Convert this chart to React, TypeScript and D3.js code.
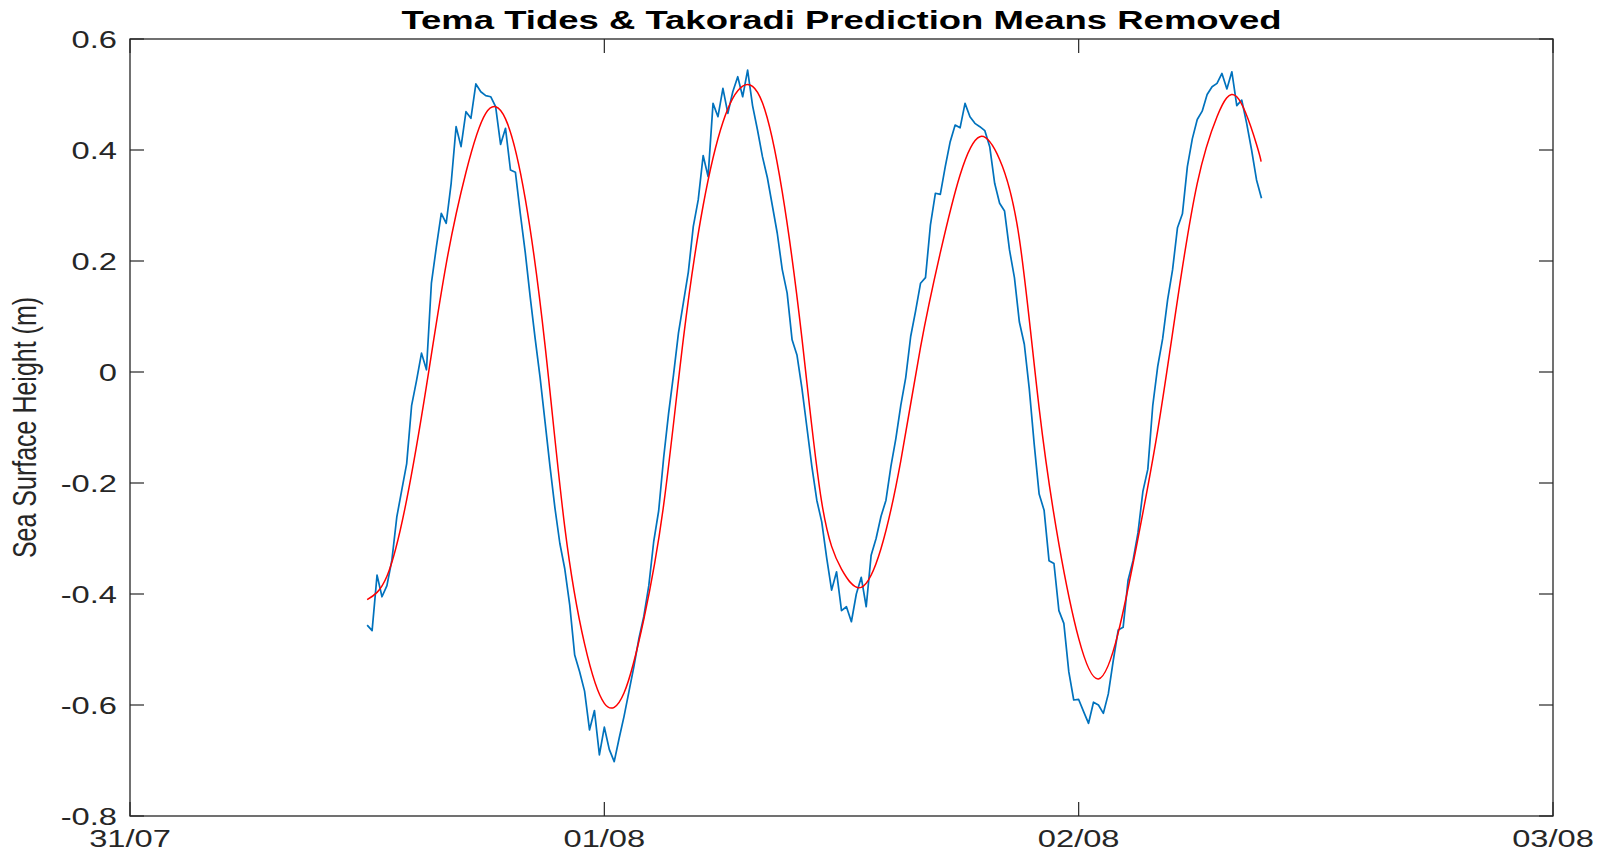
import React from 'react';
import * as d3 from 'd3';

// observed sea level at Tema, every 15 minutes starting 31/07 12:00 (m, mean removed)
const observedStart = new Date(2017, 6, 31, 12, 0);
const observedStepMinutes = 15;
const observed = [
  -0.456, -0.466, -0.366, -0.405,
  -0.385, -0.339, -0.261, -0.213,
  -0.165, -0.06, -0.015, 0.034,
  0.004, 0.16, 0.225, 0.286,
  0.268, 0.34, 0.442, 0.406,
  0.469, 0.457, 0.519, 0.505,
  0.498, 0.496, 0.478, 0.41,
  0.439, 0.364, 0.36, 0.285,
  0.215, 0.135, 0.06, -0.01,
  -0.09, -0.17, -0.245, -0.309,
  -0.355, -0.42, -0.51, -0.54,
  -0.575, -0.645, -0.61, -0.69,
  -0.64, -0.68, -0.702, -0.66,
  -0.62, -0.575, -0.53, -0.48,
  -0.44, -0.385, -0.305, -0.25,
  -0.155, -0.075, -0.005, 0.07,
  0.125, 0.18, 0.262, 0.31,
  0.39, 0.352, 0.484, 0.46,
  0.511, 0.466, 0.505, 0.532,
  0.496, 0.544, 0.48, 0.436,
  0.388, 0.35, 0.3, 0.25,
  0.185, 0.142, 0.058, 0.03,
  -0.03, -0.1, -0.17, -0.231,
  -0.27, -0.335, -0.393, -0.36,
  -0.43, -0.423, -0.45, -0.4,
  -0.37, -0.423, -0.33, -0.3,
  -0.26, -0.231, -0.17, -0.12,
  -0.06, -0.01, 0.064, 0.11,
  0.16, 0.17, 0.265, 0.322,
  0.32, 0.37, 0.415, 0.445,
  0.44, 0.484, 0.46, 0.448,
  0.442, 0.435, 0.406, 0.34,
  0.304, 0.29, 0.22, 0.17,
  0.09, 0.05, -0.03, -0.13,
  -0.22, -0.249, -0.34, -0.345,
  -0.43, -0.453, -0.54, -0.591,
  -0.59, -0.612, -0.633, -0.595,
  -0.6, -0.615, -0.58, -0.52,
  -0.465, -0.46, -0.375, -0.34,
  -0.29, -0.215, -0.175, -0.06,
  0.01, 0.06, 0.13, 0.184,
  0.26, 0.285, 0.37, 0.42,
  0.455, 0.47, 0.5, 0.514,
  0.52, 0.538, 0.51, 0.541,
  0.48, 0.49, 0.448, 0.4,
  0.346, 0.313,
];

// Takoradi prediction, hours after 31/07 00:00
const predictionHours = [
  12, 13, 14, 15, 16, 17, 18, 19, 20, 21, 22, 23, 24, 25, 26, 27, 28, 29, 30,
  31, 32, 33, 34, 35, 36, 37, 38, 39, 40, 41, 42, 43, 44, 45, 46, 47, 48, 49,
  50, 51, 52, 53, 54, 55, 56, 57, 57.23,
];
const prediction = [
  -0.41, -0.368, -0.23, -0.025, 0.195, 0.36, 0.466, 0.456, 0.312, 0.048,
  -0.28, -0.49, -0.597, -0.578, -0.445, -0.24, 0.06, 0.3, 0.45, 0.515,
  0.485, 0.325, 0.06, -0.235, -0.355, -0.388, -0.318, -0.16, 0.045, 0.215,
  0.355, 0.424, 0.383, 0.24, -0.065, -0.31, -0.48, -0.553, -0.47, -0.3,
  -0.105, 0.13, 0.34, 0.46, 0.496, 0.41, 0.379,
];

const dayTicks = [
  new Date(2017, 6, 31),
  new Date(2017, 7, 1),
  new Date(2017, 7, 2),
  new Date(2017, 7, 3),
];
const yTicks = [-0.8, -0.6, -0.4, -0.2, 0, 0.2, 0.4, 0.6];

const title = 'Tema Tides & Takoradi Prediction Means Removed';
const yLabel = 'Sea Surface Height (m)';

const W = 1610;
const H = 855;
const margin = { top: 39, right: 57, bottom: 39, left: 130 };
const axisColor = '#262626';
const font = '"Liberation Sans", Arial, Helvetica, sans-serif';
const stretch = 1.42; // the original figure is stretched sideways
const tickLen = 14;

export default function App() {
  const x = d3
    .scaleTime()
    .domain([dayTicks[0], dayTicks[dayTicks.length - 1]])
    .range([margin.left, W - margin.right]);
  const y = d3
    .scaleLinear()
    .domain([-0.8, 0.6])
    .range([H - margin.bottom, margin.top]);

  const obsPoints: [Date, number][] = observed.map((v, i) => [
    new Date(observedStart.getTime() + i * observedStepMinutes * 60000),
    v,
  ]);
  const predPoints: [Date, number][] = prediction.map((v, i) => [
    new Date(dayTicks[0].getTime() + predictionHours[i] * 3600000),
    v,
  ]);

  const obsLine = d3
    .line<[Date, number]>()
    .x((d) => x(d[0]))
    .y((d) => y(d[1]));
  const predLine = d3
    .line<[Date, number]>()
    .x((d) => x(d[0]))
    .y((d) => y(d[1]))
    .curve(d3.curveNatural);

  const fmtDay = d3.timeFormat('%d/%m');
  // matlab style labels: plain hyphen, bare 0
  const fmtY = (v: number) =>
    v === 0 ? '0' : d3.format('.1f')(v).replace('\u2212', '-');

  const x0 = margin.left;
  const x1 = W - margin.right;
  const y0 = margin.top;
  const y1 = H - margin.bottom;

  return (
    <svg
      width={W}
      height={H}
      style={{ position: 'absolute', left: 0, top: 0, background: '#fff' }}
      fontFamily={font}
    >
      <rect x={0} y={0} width={W} height={H} fill="#fff" />

      {/* data */}
      <path d={obsLine(obsPoints) || ''} fill="none" stroke="#0072BD" strokeWidth={1.7} strokeLinejoin="round" />
      <path d={predLine(predPoints) || ''} fill="none" stroke="#FF0000" strokeWidth={1.5} />

      {/* box */}
      <rect x={x0} y={y0} width={x1 - x0} height={y1 - y0} fill="none" stroke={axisColor} strokeWidth={1.3} />

      {/* y ticks */}
      {yTicks.map((t) => (
        <g key={'y' + t}>
          <line x1={x0} x2={x0 + tickLen} y1={y(t)} y2={y(t)} stroke={axisColor} strokeWidth={1.2} />
          <line x1={x1} x2={x1 - tickLen} y1={y(t)} y2={y(t)} stroke={axisColor} strokeWidth={1.2} />
          <text
            transform={`translate(117,${y(t) + 8.5}) scale(${stretch},1)`}
            textAnchor="end"
            fontSize={23}
            fill={axisColor}
          >
            {fmtY(t)}
          </text>
        </g>
      ))}

      {/* x ticks */}
      {dayTicks.map((d) => (
        <g key={'x' + d.getTime()}>
          <line x1={x(d)} x2={x(d)} y1={y1} y2={y1 - tickLen} stroke={axisColor} strokeWidth={1.2} />
          <line x1={x(d)} x2={x(d)} y1={y0} y2={y0 + tickLen} stroke={axisColor} strokeWidth={1.2} />
          <text
            transform={`translate(${x(d)},847) scale(${stretch},1)`}
            textAnchor="middle"
            fontSize={23}
            fill={axisColor}
          >
            {fmtDay(d)}
          </text>
        </g>
      ))}

      <text
        x={(x0 + x1) / 2}
        y={29}
        textAnchor="middle"
        fontSize={25}
        fontWeight="bold"
        fill="#000"
        textLength={880}
        lengthAdjust="spacingAndGlyphs"
      >
        {title}
      </text>

      <text
        transform={`translate(36,${(y0 + y1) / 2}) scale(1.3,1) rotate(-90)`}
        textAnchor="middle"
        fontSize={25}
        fill={axisColor}
      >
        {yLabel}
      </text>
    </svg>
  );
}
